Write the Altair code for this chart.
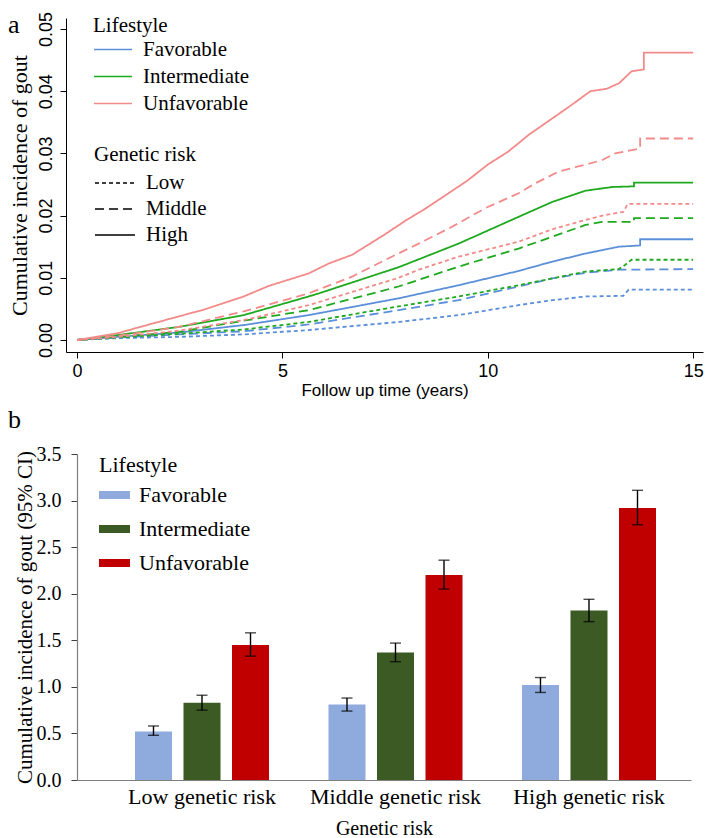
import altair as alt
import pandas as pd

# ---------------- Panel a: cumulative incidence curves ----------------
lifestyles = ["Favorable", "Intermediate", "Unfavorable"]
genetic_levels = ["Low", "Middle", "High"]
line_colors = ["#5B8FD9", "#1EA91E", "#F38A8A"]
dash_patterns = [[4, 3], [9, 5], [1, 0]]

fav_low_t = [0, 1, 2.48, 4.06, 5.64, 7.83, 9.29, 10.75, 11.57, 12.38, 13.3, 13.43, 15]
fav_low_v = [0, 0.0003, 0.0005, 0.0009, 0.0016, 0.0029, 0.0040, 0.0056, 0.0064, 0.0070, 0.0071, 0.0081, 0.0081]

fav_mid_t = [0, 1, 2.48, 4.06, 5.64, 7.83, 9.29, 10.75, 11.57, 12.38, 13.19, 15]
fav_mid_v = [0, 0.0004, 0.0009, 0.0014, 0.0025, 0.0048, 0.0064, 0.0086, 0.0099, 0.0108, 0.0113, 0.0114]

fav_high_t = [0, 1, 2.48, 4.06, 5.64, 7.83, 9.29, 10.75, 11.57, 12.38, 13.19, 13.71, 13.71, 15]
fav_high_v = [0, 0.0005, 0.0012, 0.0024, 0.0040, 0.0067, 0.0088, 0.0111, 0.0126, 0.0139, 0.0150, 0.0152, 0.0162, 0.0162]

int_low_t = [0, 1, 2.48, 4.06, 5.64, 7.83, 9.29, 10.75, 11.57, 12.38, 13.19, 13.35, 13.5, 15]
int_low_v = [0, 0.0004, 0.0010, 0.0017, 0.0029, 0.0054, 0.0070, 0.0088, 0.0099, 0.0110, 0.0114, 0.0121, 0.0129, 0.0129]

int_mid_t = [0, 1, 2.48, 4.06, 5.64, 7.83, 9.29, 10.75, 11.57, 12.38, 12.78, 13.56, 13.56, 15]
int_mid_v = [0, 0.0005, 0.0013, 0.0031, 0.0048, 0.0086, 0.0118, 0.0147, 0.0166, 0.0185, 0.0190, 0.0190, 0.0196, 0.0196]

int_high_t = [0, 1, 2.48, 4.06, 5.64, 5.89, 7.83, 9.29, 10.75, 11.57, 12.38, 13.03, 13.56, 13.56, 15]
int_high_v = [0, 0.0008, 0.0021, 0.0040, 0.0070, 0.0075, 0.0117, 0.0155, 0.0198, 0.0222, 0.0240, 0.0246, 0.0247, 0.0253, 0.0253]

unf_low_t = [0, 1, 2.48, 4.06, 5.64, 7.83, 8.32, 9.29, 10.75, 11.57, 12.38, 12.86, 13.3, 13.41, 15]
unf_low_v = [0, 0.0005, 0.0015, 0.0032, 0.0056, 0.0100, 0.0113, 0.0134, 0.0158, 0.0178, 0.0193, 0.0201, 0.0206, 0.0219, 0.0219]

unf_mid_t = [0, 1, 2.48, 4.06, 5.64, 6.7, 7.51, 8.32, 9.13, 9.94, 10.75, 11.16, 11.73, 12.2, 12.78, 13.1, 13.71, 13.71, 15]
unf_mid_v = [0, 0.0007, 0.0021, 0.0046, 0.0075, 0.0102, 0.0129, 0.0155, 0.0182, 0.0212, 0.0236, 0.0252, 0.0271, 0.0279, 0.0289, 0.0300, 0.0308, 0.0324, 0.0324]

unf_high_t = [0, 1, 1.43, 2.48, 3.05, 4.06, 4.67, 5.64, 6.13, 6.7, 7.5, 8, 8.5, 9, 9.5, 10, 10.5, 11, 11.5, 12, 12.5, 12.9, 13.2, 13.5, 13.8, 13.8, 15]
unf_high_v = [0, 0.0011, 0.0019, 0.0038, 0.0048, 0.0070, 0.0087, 0.0107, 0.0123, 0.0137, 0.0170, 0.0192, 0.0212, 0.0234, 0.0256, 0.0282, 0.0303, 0.0330, 0.0353, 0.0376, 0.0400, 0.0404, 0.0413, 0.0432, 0.0435, 0.0462, 0.0462]

curves = [
    ("Favorable", "Low", fav_low_t, fav_low_v),
    ("Favorable", "Middle", fav_mid_t, fav_mid_v),
    ("Favorable", "High", fav_high_t, fav_high_v),
    ("Intermediate", "Low", int_low_t, int_low_v),
    ("Intermediate", "Middle", int_mid_t, int_mid_v),
    ("Intermediate", "High", int_high_t, int_high_v),
    ("Unfavorable", "Low", unf_low_t, unf_low_v),
    ("Unfavorable", "Middle", unf_mid_t, unf_mid_v),
    ("Unfavorable", "High", unf_high_t, unf_high_v),
]

rows = []
for ls, gr, ts, vs in curves:
    for i, (t, v) in enumerate(zip(ts, vs)):
        rows.append({"lifestyle": ls, "genetic": gr, "series": ls + "-" + gr,
                     "seq": i, "t": t, "v": v})
df_a = pd.DataFrame(rows)

x_ticks_a = [0, 5, 10, 15]
y_ticks_a = [0.0, 0.01, 0.02, 0.03, 0.04, 0.05]

SERIF = "Liberation Serif"
SANS = "Liberation Sans"

legend_common = dict(
    orient="none", symbolType="stroke", symbolStrokeWidth=1.6,
    titleFont=SERIF, titleFontSize=21, titleFontWeight="normal", titleColor="black",
    labelFont=SERIF, labelFontSize=21, labelColor="black", labelOffset=10,
    rowPadding=2,
)

chart_a = alt.Chart(df_a).mark_line(strokeWidth=1.8).encode(
    x=alt.X("t:Q",
            scale=alt.Scale(domain=[-0.268, 15.24], nice=False, zero=False),
            axis=alt.Axis(values=x_ticks_a, title="Follow up time (years)",
                          labelFont=SANS, labelFontSize=18, labelColor="black",
                          titleFont=SANS, titleFontSize=17, titleFontWeight="normal",
                          titleColor="black", titlePadding=2,
                          tickSize=6, tickColor="black", domainColor="black",
                          labelPadding=4, grid=False)),
    y=alt.Y("v:Q",
            scale=alt.Scale(domain=[-0.00193, 0.05177], nice=False, zero=False),
            axis=alt.Axis(values=y_ticks_a, format=".2f", title="Cumulative incidence of gout",
                          labelFont=SANS, labelFontSize=18, labelColor="black",
                          labelAngle=270, labelAlign="center", labelBaseline="bottom",
                          titleFont=SERIF, titleFontSize=22, titleFontWeight="normal",
                          titleColor="black", titlePadding=6,
                          tickSize=6, tickColor="black", domainColor="black",
                          labelPadding=5, grid=False)),
    color=alt.Color("lifestyle:N",
                    scale=alt.Scale(domain=lifestyles, range=line_colors),
                    legend=alt.Legend(title="Lifestyle", legendX=27, legendY=-3,
                                      symbolSize=1444, clipHeight=25, titlePadding=1,
                                      **legend_common)),
    strokeDash=alt.StrokeDash("genetic:N",
                              scale=alt.Scale(domain=genetic_levels, range=dash_patterns),
                              legend=alt.Legend(title="Genetic risk", legendX=28, legendY=126,
                                                symbolSize=1600, symbolStrokeColor="black",
                                                clipHeight=24, titlePadding=6,
                                                **legend_common)),
    detail="series:N",
    order="seq:Q",
).properties(
    width=637, height=334,
    title=alt.TitleParams("a", anchor="start", frame="group", font=SERIF, fontSize=26,
                          fontWeight="normal", color="black", dx=-58, offset=-27),
)

# ---------------- Panel b: bar chart ----------------
groups = ["Low genetic risk", "Middle genetic risk", "High genetic risk"]
bar_colors = ["#8FAADC", "#3B5A24", "#C00000"]
est_fav = [0.52, 0.81, 1.02]
est_int = [0.83, 1.37, 1.82]
est_unf = [1.45, 2.20, 2.92]
lo_fav = [0.48, 0.74, 0.94]
hi_fav = [0.58, 0.88, 1.10]
lo_int = [0.75, 1.27, 1.70]
hi_int = [0.91, 1.47, 1.94]
lo_unf = [1.33, 2.05, 2.74]
hi_unf = [1.58, 2.36, 3.11]
y_ticks_b = [0, 0.5, 1.0, 1.5, 2.0, 2.5, 3.0, 3.5]

rows_b = []
for ls, est, lo, hi in [("Favorable", est_fav, lo_fav, hi_fav),
                        ("Intermediate", est_int, lo_int, hi_int),
                        ("Unfavorable", est_unf, lo_unf, hi_unf)]:
    for g, e, l, h in zip(groups, est, lo, hi):
        rows_b.append({"group": g, "lifestyle": ls, "value": e, "lo": l, "hi": h})
df_b = pd.DataFrame(rows_b)

xb = alt.X("group:N", sort=groups,
           scale=alt.Scale(range=[11, 625], paddingInner=0, paddingOuter=0.0866, align=0.843),
           axis=alt.Axis(title="Genetic risk", labelAngle=0, ticks=False, tickSize=0,
                         labelFont=SERIF, labelFontSize=22, labelColor="black", labelPadding=6,
                         titleFont=SERIF, titleFontSize=20, titleFontWeight="normal",
                         titleColor="black", titlePadding=11,
                         domainColor="#7F7F7F", domainWidth=1.2))
xo = alt.XOffset("lifestyle:N", sort=lifestyles,
                 scale=alt.Scale(paddingInner=0.237, paddingOuter=0.613))
yb = alt.Y("value:Q", scale=alt.Scale(domain=[0, 3.5], nice=False),
           axis=alt.Axis(values=y_ticks_b, format=".1f", offset=-11,
                         title="Cumulative incidence of gout (95% CI)",
                         labelFont=SERIF, labelFontSize=20, labelColor="black", labelPadding=10,
                         titleFont=SERIF, titleFontSize=21, titleFontWeight="normal",
                         titleColor="black", titlePadding=1,
                         tickSize=6, tickColor="#404040", domainColor="#7F7F7F",
                         domainWidth=1.2, grid=False))

base_b = alt.Chart(df_b)
bars = base_b.mark_bar().encode(
    x=xb, xOffset=xo, y=yb,
    color=alt.Color("lifestyle:N", sort=lifestyles,
                    scale=alt.Scale(domain=lifestyles, range=bar_colors),
                    legend=alt.Legend(title="Lifestyle", orient="none", legendX=33, legendY=1,
                                      symbolType="M-1,-0.26H1V0.26H-1Z", symbolSize=961,
                                      symbolStrokeWidth=0, symbolOpacity=1,
                                      titleFont=SERIF, titleFontSize=22, titleFontWeight="normal",
                                      titleColor="black", labelFont=SERIF, labelFontSize=22,
                                      labelColor="black", labelOffset=9, rowPadding=2,
                                      clipHeight=32, titlePadding=2)),
)
rules = base_b.mark_rule(color="black", strokeWidth=1.4).encode(
    x=xb, xOffset=xo, y="lo:Q", y2="hi:Q")
caps_hi = base_b.mark_tick(color="black", thickness=1.4, size=11).encode(
    x=xb, xOffset=xo, y="hi:Q")
caps_lo = base_b.mark_tick(color="black", thickness=1.4, size=11).encode(
    x=xb, xOffset=xo, y="lo:Q")

chart_b = alt.layer(bars, rules, caps_hi, caps_lo).properties(
    width=625, height=326,
    title=alt.TitleParams("b", anchor="start", frame="group", font=SERIF, fontSize=26,
                          fontWeight="normal", color="black", dx=-58, offset=11),
)

chart = alt.vconcat(chart_a, chart_b, spacing=102, bounds="flush").resolve_scale(
    color="independent"
).properties(
    padding={"left": 0, "top": 3, "right": 0, "bottom": 0}
).configure_view(stroke=None)

chart.save("out.html", embed_options={"renderer": "svg", "actions": False})
